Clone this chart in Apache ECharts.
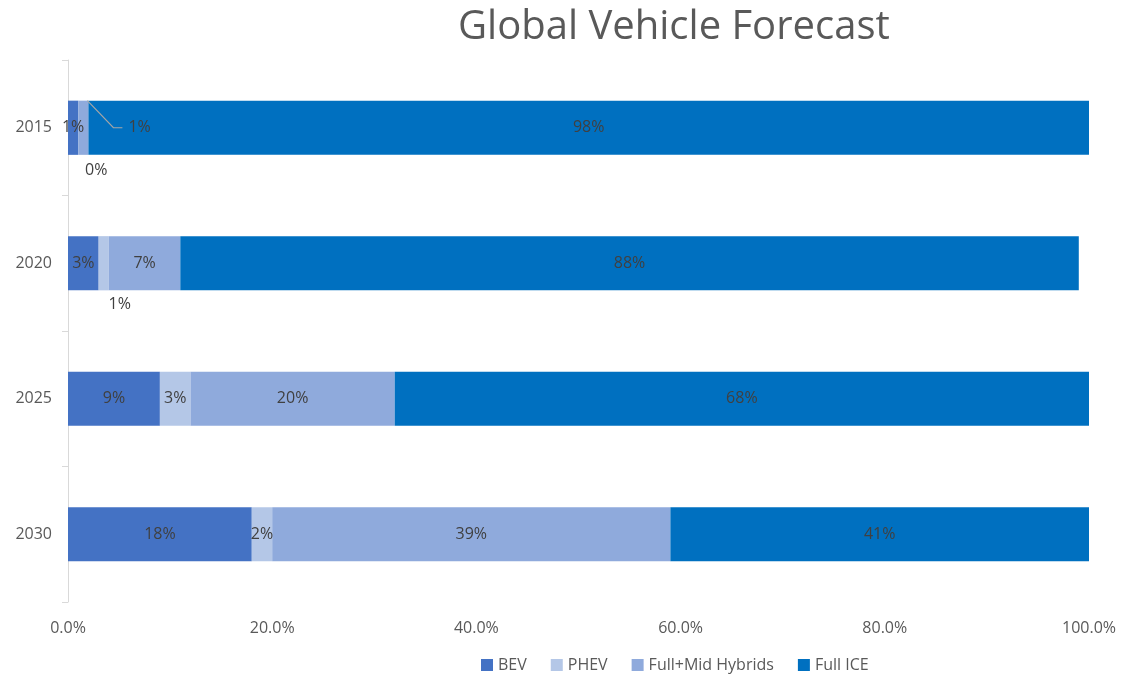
<!DOCTYPE html>
<html>
<head>
<meta charset="utf-8">
<script src="https://cdn.jsdelivr.net/npm/echarts@6/dist/echarts.min.js"></script>
<style>html,body{margin:0;padding:0;background:#fff}#c{width:1129px;height:675px}</style>
</head>
<body>
<div id="c"></div>
<script>
var categories = ['2015', '2020', '2025', '2030'];
var bev = [1, 3, 9, 18];
var phev = [0, 1, 3, 2];
var hybrids = [1, 7, 20, 39];
var ice = [98, 88, 68, 41];
var seriesNames = ['BEV', 'PHEV', 'Full+Mid Hybrids', 'Full ICE'];
var colors = ['#4472C4', '#B4C7E7', '#8FAADC', '#0070C0'];
var xTicks = [0, 20, 40, 60, 80, 100];

var chart = echarts.init(document.getElementById('c'));
var font = '"Open Sans", Lato, sans-serif';
var baseLabel = { show: true, position: 'inside', formatter: '{c}%', color: '#404040', fontSize: 16, fontFamily: font };

function mk(name, arr, color) {
  return {
    name: name, type: 'bar', stack: 'total', barCategoryGap: '60%',
    itemStyle: { color: color },
    label: baseLabel,
    data: arr.map(function (v) { return { value: v }; })
  };
}
var sBev = mk(seriesNames[0], bev, colors[0]);
var sPhev = mk(seriesNames[1], phev, colors[1]);
var sHyb = mk(seriesNames[2], hybrids, colors[2]);
var sIce = mk(seriesNames[3], ice, colors[3]);
// small segments: labels outside
sPhev.data[0].label = { position: 'bottom', distance: 8, offset: [18, 0] };
sPhev.data[1].label = { position: 'bottom', distance: 6, offset: [16, 0] };
sHyb.data[0].label = { position: 'right', distance: 40 };

var option = {
  animation: false,
  color: colors,
  title: {
    text: 'Global Vehicle Forecast', left: 453, top: 3,
    textStyle: { fontSize: 40, fontWeight: 'normal', color: '#595959', fontFamily: font }
  },
  legend: {
    top: 652, left: 476, itemWidth: 12, itemHeight: 12, itemGap: 24, icon: 'rect',
    textStyle: { color: '#595959', fontSize: 16, fontFamily: font },
    data: seriesNames
  },
  grid: { left: 68, right: 40, top: 60, bottom: 73, containLabel: false },
  xAxis: {
    type: 'value', min: 0, max: 100, interval: 20,
    axisLine: { show: false }, axisTick: { show: false }, splitLine: { show: false },
    axisLabel: { color: '#595959', fontSize: 16, fontFamily: font, margin: 18,
      formatter: function (v) { return xTicks.indexOf(v) >= 0 ? v.toFixed(1) + '%' : ''; } }
  },
  yAxis: {
    type: 'category', data: categories, inverse: true,
    axisLine: { show: true, lineStyle: { color: '#d9d9d9' } },
    axisTick: { show: true, length: 6, lineStyle: { color: '#d9d9d9' } },
    axisLabel: { color: '#595959', fontSize: 16, fontFamily: font, margin: 16 }
  },
  series: [sBev, sPhev, sHyb, sIce]
};
chart.setOption(option);

// leader line for the 2015 hybrid label, derived from the axis scales
var endVal = bev[0] + phev[0] + hybrids[0];
var pEnd = chart.convertToPixel({ gridIndex: 0 }, [endVal, categories[0]]);
var pNext = chart.convertToPixel({ gridIndex: 0 }, [endVal, categories[1]]);
var band = Math.abs(pNext[1] - pEnd[1]);
var barTop = pEnd[1] - band * 0.4 / 2;
chart.setOption({
  graphic: [{
    type: 'polyline', z: 100, silent: true,
    shape: { points: [[pEnd[0] - 1, barTop], [pEnd[0] + 25, pEnd[1]], [pEnd[0] + 34, pEnd[1]]] },
    style: { stroke: '#a6a6a6', lineWidth: 1.2, fill: null }
  }]
});
</script>
</body>
</html>
